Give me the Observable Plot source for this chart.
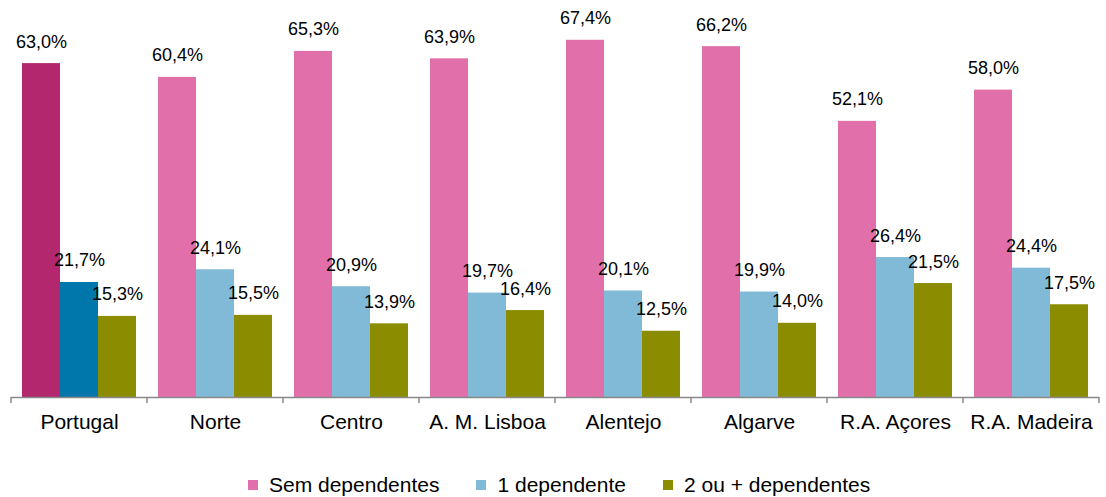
<!DOCTYPE html>
<html><head><meta charset="utf-8">
<script src="https://cdn.jsdelivr.net/npm/d3@7"></script>
<script src="https://cdn.jsdelivr.net/npm/@observablehq/plot@0.6"></script>
<style>
body{margin:0;background:#fff;font-family:"Liberation Sans",Arial,sans-serif;}
#wrap{position:relative;width:1106px;height:497px;overflow:hidden;}
#legend{position:absolute;left:248px;top:473px;display:flex;align-items:center;font-size:21px;line-height:24px;color:#000;}
.item{display:flex;align-items:center;margin-right:37px;}
.sw{width:10px;height:10px;margin-right:11px;}
</style></head><body>
<div id="wrap"><div id="chart"></div><div id="legend"></div></div>
<script>
const regions = ["Portugal","Norte","Centro","A. M. Lisboa","Alentejo","Algarve","R.A. Açores","R.A. Madeira"];
const series = ["Sem dependentes","1 dependente","2 ou + dependentes"];
const semDependentes = [63.0, 60.4, 65.3, 63.9, 67.4, 66.2, 52.1, 58.0];
const umDependente   = [21.7, 24.1, 20.9, 19.7, 20.1, 19.9, 26.4, 24.4];
const doisOuMais     = [15.3, 15.5, 13.9, 16.4, 12.5, 14.0, 21.5, 17.5];
const coloursRegional = ["#E170AA","#80BAD7","#8B8C00"];
const coloursPortugal = ["#B2276E","#0077AA","#8B8C00"];

const valuesBySeries = [semDependentes, umDependente, doisOuMais];
const data = [];
regions.forEach((r, i) => {
  series.forEach((s, j) => {
    data.push({
      region: r, series: s, value: valuesBySeries[j][i],
      colour: (r === "Portugal" ? coloursPortugal : coloursRegional)[j]
    });
  });
});
const fmt = v => v.toFixed(1).replace(".", ",") + "%";

const plot = Plot.plot({
  width: 1106,
  height: 445,
  marginLeft: 10,
  marginRight: 7,
  marginTop: 26,
  marginBottom: 48,
  style: {fontFamily: '"Liberation Sans", Arial, sans-serif', color: "#000", background: "#fff"},
  fx: {domain: regions, padding: 0, label: null, axis: null},
  x: {domain: series, paddingInner: 0, paddingOuter: 0.25, axis: null},
  y: {domain: [0, 70], axis: null},
  color: {type: "identity"},
  marks: [
    Plot.barY(data, {fx: "region", x: "series", y: "value", fill: "colour"}),
    Plot.ruleY([0], {stroke: "#898989", strokeWidth: 1.5}),
    Plot.text(data, {fx: "region", x: "series", y: "value", text: d => fmt(d.value),
      lineAnchor: "bottom", dy: -16, fontSize: 18, fill: "#000"}),
    Plot.axisFx({anchor: "bottom", tickSize: 0, tickPadding: 17, fontSize: 21, label: null, fill: "#000"})
  ]
});
document.getElementById("chart").appendChild(plot);

// boundary ticks derived from the fx band scale
const fx = plot.scale("fx");
const y = plot.scale("y");
const y0 = y.apply(0);
const bounds = regions.map(r => fx.apply(r)).concat([fx.apply(regions[regions.length - 1]) + fx.bandwidth]);
d3.select(plot).append("g")
  .selectAll("line").data(bounds).join("line")
  .attr("x1", d => d).attr("x2", d => d)
  .attr("y1", y0).attr("y2", y0 + 6)
  .attr("stroke", "#898989").attr("stroke-width", 1.5);

const legend = d3.select("#legend");
series.forEach((s, j) => {
  const it = legend.append("div").attr("class", "item");
  it.append("div").attr("class", "sw").style("background", coloursRegional[j]);
  it.append("span").text(s);
});
</script>
</body></html>
